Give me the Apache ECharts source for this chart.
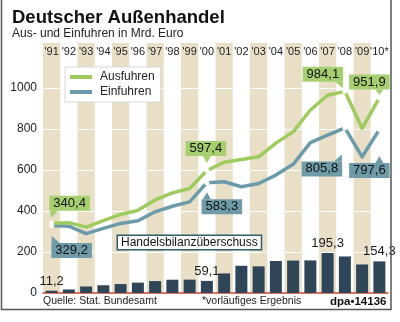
<!DOCTYPE html>
<html><head><meta charset="utf-8">
<script src="https://cdn.jsdelivr.net/npm/echarts@6/dist/echarts.min.js"></script>
<style>html,body{margin:0;padding:0;background:#fff}#c{width:400px;height:322px}</style>
</head><body><div id="c"></div>
<script>
// ---- data ----
const years = ["'91","'92","'93","'94","'95","'96","'97","'98","'99","'00","'01","'02","'03","'04","'05","'06","'07","'08","'09","'10*"];
const exportsVal = [340.4, 343.2, 321.3, 353.1, 383.2, 403.4, 454.3, 488.4, 510.0, 597.4, 638.3, 651.3, 664.5, 731.5, 786.3, 893.0, 965.2, 984.1, 803.3, 951.9];
const importsVal = [329.2, 326.0, 289.6, 315.4, 339.6, 352.8, 396.2, 423.5, 444.8, 538.3, 542.8, 518.5, 534.5, 575.4, 628.1, 734.0, 769.9, 805.8, 664.1, 797.6];
const surplusVal = [11.2, 17.2, 31.7, 37.7, 43.6, 50.6, 58.1, 64.9, 65.2, 59.1, 95.5, 132.8, 130.0, 156.1, 158.2, 159.0, 195.3, 178.3, 139.2, 154.3];
const yTicks = [0, 200, 400, 600, 800, 1000];
const exportCalloutIdx = [0, 9, 17, 19];
const exportCalloutText = ['340,4', '597,4', '984,1', '951,9'];
const importCalloutIdx = [0, 9, 17, 19];
const importCalloutText = ['329,2', '583,3', '805,8', '797,6']; // as printed
const surplusLabelIdx = [0, 9, 16, 19];

// ---- styles ----
const GREEN = '#9dcb5e', GREEN_BOX = '#a6cf70';
const BLUE = '#6b9bab', BLUE_BOX = '#6f9ba8';
const BAR = '#2e4657', BAND = '#e9dfc7';
const expOffsets = [[18,-20],[-1,-22],[-22,-17],[-10,-16]];
const impOffsets = [[20,25],[15,24],[-23,41],[-10,41]];
const FONT = 'Liberation Sans, Arial, sans-serif';
const Y_MAX = 1220;

function fmt(v){ return v.toFixed(1).replace('.', ','); }

function lineData(vals, idxs, texts, offs, boxColor){
  return vals.map((v, i) => {
    const k = idxs.indexOf(i);
    if (k < 0) return { value: v, symbol: 'none' };
    return {
      value: v, symbol: 'circle', symbolSize: 5,
      itemStyle: { color: '#ffffff' },
      label: {
        show: true, position: 'inside', offset: offs[k],
        formatter: texts[k], backgroundColor: boxColor,
        color: '#111', fontSize: 13, fontFamily: FONT, lineHeight: 14,
        padding: [1, 4, 0, 4], align: 'center', verticalAlign: 'middle'
      }
    };
  });
}

const barData = surplusVal.map((v, i) => surplusLabelIdx.includes(i) ? {
  value: v,
  label: { show: true, position: 'top', distance: 3, formatter: fmt(v), fontSize: 13, color: '#1a1a1a', fontFamily: FONT }
} : { value: v });

const chart = echarts.init(document.getElementById('c'), null, { renderer: 'canvas' });
const option = {
  animation: false,
  backgroundColor: '#ffffff',
  grid: { left: 43, right: 12, top: 43, bottom: 29 },
  xAxis: [{
    type: 'category', data: years, position: 'top', z: -1,
    axisLine: { show: false }, axisTick: { show: false },
    axisLabel: { inside: true, margin: 3, fontSize: 11, color: '#222', fontFamily: FONT, interval: 0 },
    splitArea: { show: true, interval: 0, areaStyle: { color: [BAND, 'rgba(255,255,255,0)'] } },
    splitLine: { show: false }
  }, {
    type: 'category', data: years, position: 'bottom',
    axisLine: { show: true, lineStyle: { color: '#d9462c', width: 1.5 } },
    axisTick: { show: false }, axisLabel: { show: false }
  }],
  yAxis: {
    type: 'value', min: 0, max: Y_MAX, interval: 200,
    axisLine: { show: false }, axisTick: { show: false }, splitLine: { show: false },
    axisLabel: { margin: 6, fontSize: 12, color: '#222', fontFamily: FONT,
      formatter: v => yTicks.includes(v) ? String(v) : '' }
  },
  legend: {
    data: ['Ausfuhren', 'Einfuhren'], orient: 'vertical', left: 65, top: 67,
    backgroundColor: '#ffffff', borderColor: '#d8d8d8', borderWidth: 1,
    padding: [4, 6, 4, 5], itemGap: 3, itemWidth: 22, itemHeight: 4, icon: 'rect',
    textStyle: { fontSize: 12, color: '#222', fontFamily: FONT, padding: [0, 0, 0, 3] }
  },
  series: [{
    name: 'Handelsbilanzüberschuss', type: 'bar', data: barData, barWidth: 12,
    itemStyle: { color: BAR }, z: 2
  }, {
    name: 'Einfuhren', type: 'line', color: BLUE, z: 4,
    lineStyle: { width: 3.5, color: BLUE, join: 'round' },
    data: lineData(importsVal, importCalloutIdx, importCalloutText, impOffsets, BLUE_BOX)
  }, {
    name: 'Ausfuhren', type: 'line', color: GREEN, z: 4,
    lineStyle: { width: 3.5, color: GREEN, join: 'round' },
    data: lineData(exportsVal, exportCalloutIdx, exportCalloutText, expOffsets, GREEN_BOX)
  }],
  graphic: [
    { id: 'frame', type: 'rect', z: 100, shape: { x: 1.5, y: -5, width: 389.5, height: 314.5 },
      style: { fill: 'none', stroke: '#555', lineWidth: 1.5 } },
    { id: 'title', type: 'text', x: 12, y: 8, style: { text: 'Deutscher Außenhandel', font: 'bold 18.5px ' + FONT, fill: '#111' } },
    { id: 'sub', type: 'text', x: 12, y: 28, style: { text: 'Aus- und Einfuhren in Mrd. Euro', font: '12px ' + FONT, fill: '#222' } },
    { id: 'hbox', type: 'text', x: 118, y: 236, z: 50,
      style: { text: 'Handelsbilanzüberschuss', font: '12px ' + FONT, fill: '#111',
        backgroundColor: '#ffffff', borderColor: '#2f5b6b', borderWidth: 1.5, padding: [1, 3, 0, 3] } },
    { id: 'src', type: 'text', x: 43, y: 301.5, style: { text: 'Quelle: Stat. Bundesamt', font: '10.5px ' + FONT, fill: '#222', verticalAlign: 'middle' } },
    { id: 'note', type: 'text', x: 202, y: 301.5, style: { text: '*vorläufiges Ergebnis', font: '10.5px ' + FONT, fill: '#222', verticalAlign: 'middle' } },
    { id: 'dpa', type: 'text', x: 330, y: 301.5, style: { text: 'dpa•14136', font: 'bold 11.5px ' + FONT, fill: '#111', verticalAlign: 'middle' } }
  ]
};
chart.setOption(option);

// white horizontal grid lines at the y ticks, placed via the series' coordinate system
const gridLines = yTicks.filter(v => v > 0).map((v, k) => {
  const y = Math.round(chart.convertToPixel({ seriesIndex: 0 }, [0, v])[1]) + 0.5;
  return { id: 'gl' + k, type: 'line', z: 1, silent: true,
    shape: { x1: 43, y1: y, x2: 388, y2: y }, style: { stroke: '#ffffff', lineWidth: 1.2 } };
});

// callout tails, positioned from the library's own coordinate conversion
function tails(seriesIndex, vals, idxs, offs, color, prefix){
  const out = [];
  idxs.forEach((i, k) => {
    const p = chart.convertToPixel({ seriesIndex: seriesIndex }, [i, vals[i]]);
    const cx = p[0] + offs[k][0], cy = p[1] + offs[k][1];
    const above = offs[k][1] < 0;
    const by = above ? cy + 7.5 : cy - 7.5;
    const bx = Math.max(cx - 16, Math.min(cx + 16, p[0]));
    const ax = bx + Math.max(-4, Math.min(4, p[0] - bx));
    const ay = above ? Math.min(by + 7, p[1] - 3) : Math.max(by - 7, p[1] + 3);
    out.push({ id: prefix + k, type: 'polygon', z: 5,
      shape: { points: [[bx - 4, by], [bx + 4, by], [ax, ay]] }, style: { fill: color } });
  });
  return out;
}
chart.setOption({ graphic: [].concat(
  gridLines,
  tails(2, exportsVal, exportCalloutIdx, expOffsets, GREEN_BOX, 'te'),
  tails(1, importsVal, importCalloutIdx, impOffsets, BLUE_BOX, 'ti')
) });
</script></body></html>
